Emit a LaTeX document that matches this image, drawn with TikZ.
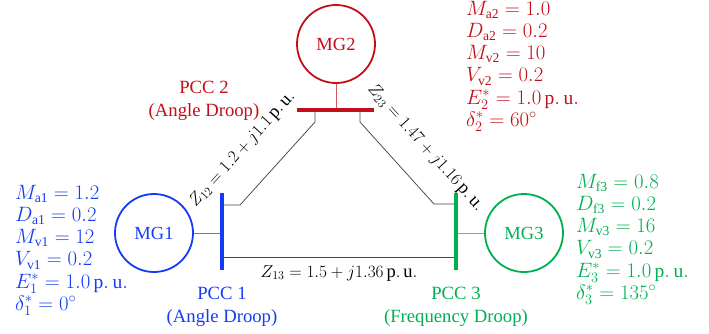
\documentclass[tikz,border=0pt]{standalone}
\usepackage{fontspec}
\setmainfont{Liberation Serif}
\usetikzlibrary{calc}
\definecolor{mgblue}{RGB}{20,60,245}
\definecolor{mgred}{RGB}{195,15,25}
\definecolor{mggreen}{RGB}{0,176,80}
\definecolor{linegray}{RGB}{70,70,70}
\begin{document}
\begin{tikzpicture}[x=1pt,y=-1pt,
  mg/.style={circle, draw=#1, line width=1.8pt, minimum size=78pt, inner sep=0pt,
    text=#1, font=\fontsize{18.5}{22}\selectfont},
  bus/.style={draw=#1, line width=3.2pt},
  stem/.style={draw=#1!70, line width=0.9pt},
  feeder/.style={draw=linegray, line width=0.75pt},
  pcc/.style={text=#1, align=center, inner sep=0pt, anchor=base,
    font=\fontsize{18.7}{23}\selectfont},
  params/.style={text=#1, align=left, inner sep=0pt, anchor=base west,
    font=\fontsize{19.5}{22.3}\selectfont},
  zlbl/.style={inner sep=0pt, font=\fontsize{18.5}{20}\selectfont},
]
\useasboundingbox (0,0) rectangle (709,333);

% microgrid sources
\node[mg=mgblue]  (MG1) at (154,233) {MG1};
\node[mg=mgred]   (MG2) at (336,44)  {MG2};
\node[mg=mggreen] (MG3) at (524,233) {MG3};

% bus bar end points
\coordinate (b1t) at (222,193); \coordinate (b1b) at (222,270);
\coordinate (b2l) at (297,110); \coordinate (b2r) at (374,110);
\coordinate (b3t) at (456,193); \coordinate (b3b) at (456,270);

% feeder taps and bends
\coordinate (t12a) at (222,205); \coordinate (k12a) at (240,205);
\coordinate (k12b) at (315,122); \coordinate (t12b) at (315,110);
\coordinate (t23a) at (360,110); \coordinate (k23a) at (360,122);
\coordinate (k23b) at (434,204); \coordinate (t23b) at (456,204);
\coordinate (t13a) at (222,257); \coordinate (t13b) at (456,257);

% lines between the PCCs
\draw[feeder] (t12a) -- (k12a)
  -- node[zlbl, sloped, pos=0.384, above=27pt] {$Z_{12} = 1.2 + j1.1\,\mathrm{p.\,u.}$} (k12b)
  -- (t12b);
\draw[feeder] (t23a) -- (k23a)
  -- node[zlbl, sloped, pos=0.57, above=23pt] {$Z_{23} = 1.47 + j1.16\,\mathrm{p.\,u.}$} (k23b)
  -- (t23b);
\draw[feeder] (t13a) -- node[zlbl, below=8pt] {$Z_{13} = 1.5 + j1.36\,\mathrm{p.\,u.}$} (t13b);

% connections from sources to their PCC
\draw[stem=mgblue]  (MG1.east)  -- (MG1.east -| b1t);
\draw[stem=mgred]   (MG2.south) -- (MG2.south |- b2l);
\draw[stem=mggreen] (MG3.west)  -- (MG3.west -| b3t);

% bus bars
\draw[bus=mgblue]  (b1t) -- (b1b);
\draw[bus=mgred]   (b2l) -- (b2r);
\draw[bus=mggreen] (b3t) -- (b3b);

% PCC labels (anchored at the baseline of their last line)
\node[pcc=mgblue]  (pcc1) at (222,322) {PCC 1\\(Angle Droop)};
\node[pcc=mgred]   (pcc2) at (204,116) {PCC 2\\(Angle Droop)};
\node[pcc=mggreen] (pcc3) at (456,322) {PCC 3\\(Frequency Droop)};

% controller parameters (anchored at the baseline of their last line)
\node[params=mgblue] (par1) at (15,310.5) {%
  $M_{\mathrm{a1}} = 1.2$\\
  $D_{\mathrm{a1}} = 0.2$\\
  $M_{\mathrm{v1}} = 12$\\
  $V_{\mathrm{v1}} = 0.2$\\
  $E_1^{*} = 1.0\,\mathrm{p.\,u.}$\\
  $\delta_1^{*} = 0^{\circ}$};
\node[params=mgred] (par2) at (466,126.5) {%
  $M_{\mathrm{a2}} = 1.0$\\
  $D_{\mathrm{a2}} = 0.2$\\
  $M_{\mathrm{v2}} = 10$\\
  $V_{\mathrm{v2}} = 0.2$\\
  $E_2^{*} = 1.0\,\mathrm{p.\,u.}$\\
  $\delta_2^{*} = 60^{\circ}$};
\node[params=mggreen] (par3) at (576,299.5) {%
  $M_{\mathrm{f3}} = 0.8$\\
  $D_{\mathrm{f3}} = 0.2$\\
  $M_{\mathrm{v3}} = 16$\\
  $V_{\mathrm{v3}} = 0.2$\\
  $E_3^{*} = 1.0\,\mathrm{p.\,u.}$\\
  $\delta_3^{*} = 135^{\circ}$};
\end{tikzpicture}
\end{document}
